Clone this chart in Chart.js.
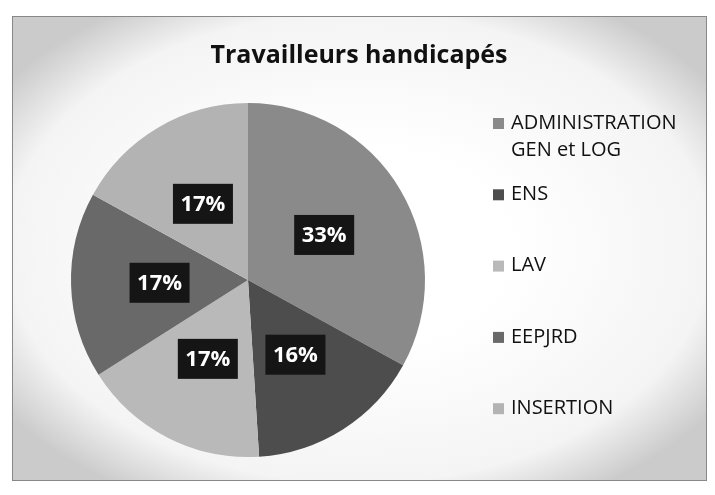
<!DOCTYPE html>
<html lang="fr">
<head>
    <meta charset="UTF-8">
    <title>Travailleurs handicapés</title>
    <script src="https://cdn.jsdelivr.net/npm/chart.js@4"></script>
    <style>
        body { margin: 0; background: #fff; }
        canvas { display: block; }
    </style>
</head>
<body>
    <canvas id="myChart" width="715" height="495"></canvas>
    <script>
        // données du graphique
        const categories = ['ADMINISTRATION GEN et LOG', 'ENS', 'LAV', 'EEPJRD', 'INSERTION'];
        const pourcentages = [33, 16, 17, 17, 17];
        const couleurs = ['#8a8a8a', '#4d4d4d', '#b9b9b9', '#696969', '#b3b3b3'];
        const titre = 'Travailleurs handicapés';

        const police = '"Open Sans", "DejaVu Sans", sans-serif';

        // fond du cadre avec bords grisés
        const fondPlugin = {
            id: 'fond',
            beforeDraw(chart) {
                const ctx = chart.ctx;
                const x0 = 12, y0 = 16, x1 = 706, y1 = 480;
                ctx.save();
                ctx.fillStyle = '#fff';
                ctx.fillRect(0, 0, chart.width, chart.height);
                const cx = (x0 + x1) / 2, cy = (y0 + y1) / 2;
                ctx.translate(cx, cy);
                ctx.scale(1, (y1 - y0) / (x1 - x0));
                const g = ctx.createRadialGradient(0, 0, 150, 0, 0, (x1 - x0) * 0.62);
                g.addColorStop(0, '#ffffff');
                g.addColorStop(0.72, '#f4f4f4');
                g.addColorStop(1, '#cbcbcb');
                ctx.fillStyle = g;
                ctx.fillRect(-(x1 - x0) / 2, -(x1 - x0) / 2, x1 - x0, x1 - x0);
                ctx.restore();
                ctx.save();
                ctx.strokeStyle = '#888';
                ctx.lineWidth = 1;
                ctx.strokeRect(x0 + 0.5, y0 + 0.5, x1 - x0, y1 - y0);
                ctx.restore();
            }
        };

        // titre, étiquettes de valeur et légende
        const textesPlugin = {
            id: 'textes',
            afterDatasetsDraw(chart) {
                const ctx = chart.ctx;
                ctx.save();

                // titre
                ctx.fillStyle = '#111';
                ctx.font = 'bold 25px ' + police;
                ctx.textAlign = 'center';
                ctx.textBaseline = 'alphabetic';
                ctx.fillText(titre, 359, 63);

                // étiquettes en pourcentage
                const meta = chart.getDatasetMeta(0);
                ctx.font = 'bold 22px ' + police;
                ctx.textBaseline = 'middle';
                meta.data.forEach((arc, i) => {
                    const p = arc.tooltipPosition();
                    const txt = chart.data.datasets[0].data[i] + '%';
                    const w = 60, h = 40;
                    ctx.fillStyle = '#151515';
                    ctx.fillRect(p.x - w / 2, p.y - h / 2, w, h);
                    ctx.fillStyle = '#fff';
                    ctx.fillText(txt, p.x, p.y + 1);
                });

                // légende
                ctx.font = '20px ' + police;
                ctx.textAlign = 'left';
                chart.data.labels.forEach((lab, i) => {
                    const y = 123 + i * 71.3;
                    ctx.fillStyle = chart.data.datasets[0].backgroundColor[i];
                    ctx.fillRect(493, y - 5, 11, 11);
                    ctx.fillStyle = '#111';
                    const lignes = couper(ctx, lab, 185);
                    lignes.forEach((l, j) => ctx.fillText(l, 511, y + j * 27));
                });
                ctx.restore();
            }
        };

        function couper(ctx, texte, largeur) {
            const mots = texte.split(' ');
            const lignes = [];
            let ligne = '';
            mots.forEach(m => {
                const essai = ligne ? ligne + ' ' + m : m;
                if (ligne && ctx.measureText(essai).width > largeur) {
                    lignes.push(ligne);
                    ligne = m;
                } else {
                    ligne = essai;
                }
            });
            if (ligne) lignes.push(ligne);
            return lignes;
        }

        const ctx = document.getElementById('myChart').getContext('2d');

        new Chart(ctx, {
            type: 'pie',
            data: {
                labels: categories,
                datasets: [{
                    data: pourcentages,
                    backgroundColor: couleurs,
                    borderWidth: 0
                }]
            },
            options: {
                responsive: false,
                animation: false,
                layout: {
                    padding: { left: 71, right: 290, top: 103, bottom: 38 }
                },
                plugins: {
                    legend: { display: false },
                    title: { display: false },
                    tooltip: { enabled: false }
                }
            },
            plugins: [fondPlugin, textesPlugin]
        });
    </script>
</body>
</html>
